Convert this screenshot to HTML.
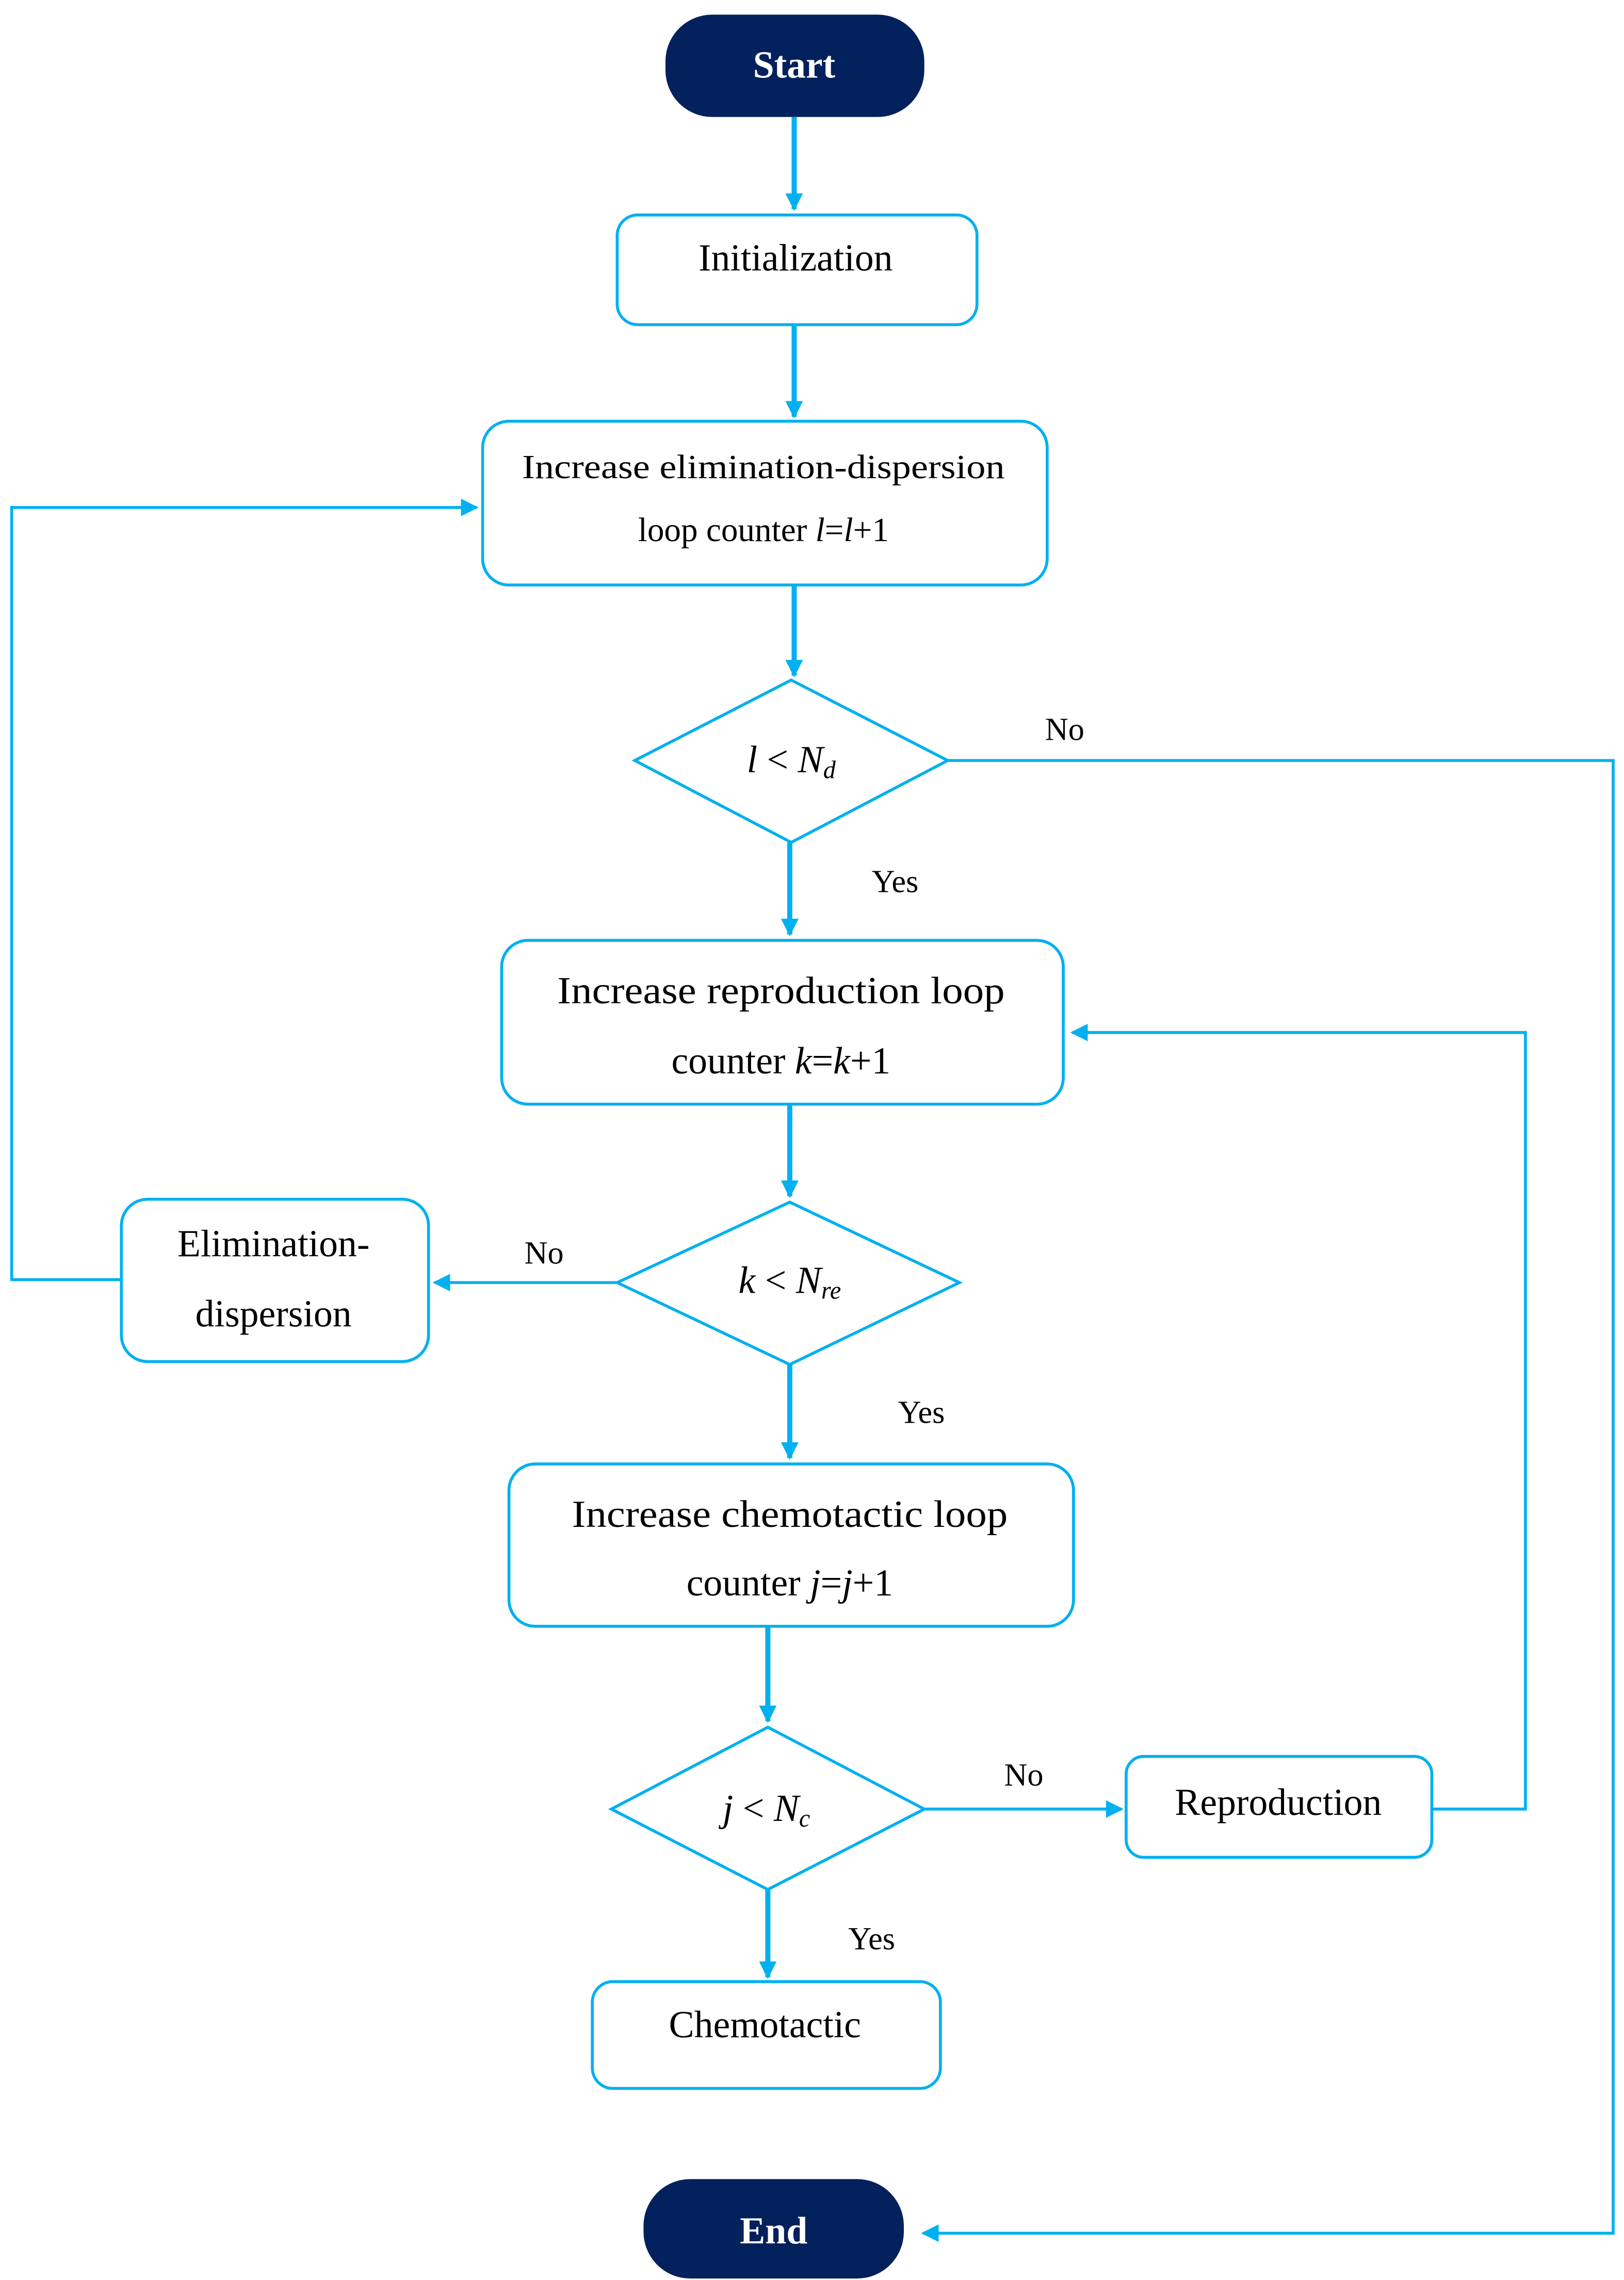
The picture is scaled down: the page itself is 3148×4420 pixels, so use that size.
<!DOCTYPE html>
<html><head><meta charset="utf-8"><style>
html,body{margin:0;padding:0;background:#fff;}
svg{display:block;}
svg text{font-family:"Liberation Serif","DejaVu Serif",serif !important;fill:#000;}
</style></head><body>
<svg width="3148" height="4420" viewBox="0 0 1110.4 1559" preserveAspectRatio="none" xmlns="http://www.w3.org/2000/svg" font-family="'Liberation Serif', 'DejaVu Serif', serif">
<defs>
<marker id="b" viewBox="0 0 10 10" refX="9" refY="5" markerWidth="12" markerHeight="12" orient="auto" markerUnits="userSpaceOnUse"><path d="M0,0 L10,5 L0,10 z" fill="#00B0F0"/></marker>
</defs>
<g stroke="#00B0F0" fill="none">
<rect x="422" y="147" width="246" height="75" rx="14" stroke-width="2"/>
<rect x="330" y="288" width="386" height="112" rx="18" stroke-width="2"/>
<polygon points="541,465 648,520 541,576 434,520" stroke-width="2"/>
<rect x="343" y="643" width="384" height="112" rx="18" stroke-width="2"/>
<polygon points="540,822 656,877 540,933 422,877" stroke-width="2"/>
<rect x="83" y="820" width="210" height="111" rx="18" stroke-width="2"/>
<rect x="348" y="1001" width="386" height="111" rx="18" stroke-width="2"/>
<polygon points="525,1181 632,1237 525,1292 418,1237" stroke-width="2"/>
<rect x="770" y="1201" width="209" height="69" rx="12" stroke-width="2"/>
<rect x="405" y="1355" width="238" height="73" rx="14" stroke-width="2"/>
<g stroke-width="3.5" marker-end="url(#b)">
<line x1="543" y1="80" x2="543" y2="143"/>
<line x1="543" y1="222" x2="543" y2="285"/>
<line x1="543" y1="400" x2="543" y2="462"/>
<line x1="540" y1="576" x2="540" y2="639"/>
<line x1="540" y1="755" x2="540" y2="818"/>
<line x1="540" y1="933" x2="540" y2="997"/>
<line x1="525" y1="1112" x2="525" y2="1177"/>
<line x1="525" y1="1292" x2="525" y2="1352"/>
</g>
<g stroke-width="2" marker-end="url(#b)">
<polyline points="648,520 1103,520 1103,1527 631,1527"/>
<line x1="422" y1="877" x2="297" y2="877"/>
<polyline points="83,875 8,875 8,347 326,347"/>
<line x1="632" y1="1237" x2="767" y2="1237"/>
<polyline points="979,1237 1043,1237 1043,706 733,706"/>
</g>
</g>
<rect x="455" y="10" width="177" height="70" rx="32" fill="#03215C"/>
<rect x="440" y="1490" width="178" height="68" rx="32" fill="#03215C"/>
<text x="543" y="53" font-size="26" font-weight="bold" text-anchor="middle" style="fill:#fff" font-family="'Liberation Serif', serif">Start</text>
<text x="529" y="1534" font-size="26" font-weight="bold" text-anchor="middle" style="fill:#fff" font-family="'Liberation Serif', serif">End</text>
<g font-size="26" text-anchor="middle" font-family="'Liberation Serif', serif">
<text x="544" y="185">Initialization</text>
<text x="522" y="327" font-size="23" textLength="330" lengthAdjust="spacingAndGlyphs">Increase elimination-dispersion</text>
<text x="522" y="370" font-size="23">loop counter <tspan font-style="italic">l</tspan>=<tspan font-style="italic">l</tspan>+1</text>
<text x="541" y="528"><tspan font-style="italic">l</tspan> &lt; <tspan font-style="italic">N</tspan><tspan font-style="italic" font-size="17" dy="4">d</tspan></text>
<text x="534" y="686" textLength="306" lengthAdjust="spacingAndGlyphs">Increase reproduction loop</text>
<text x="534" y="734">counter <tspan font-style="italic">k</tspan>=<tspan font-style="italic">k</tspan>+1</text>
<text x="540" y="884"><tspan font-style="italic">k</tspan> &lt; <tspan font-style="italic">N</tspan><tspan font-style="italic" font-size="17" dy="4">re</tspan></text>
<text x="187" y="859">Elimination-</text>
<text x="187" y="907">dispersion</text>
<text x="540" y="1044" textLength="298" lengthAdjust="spacingAndGlyphs">Increase chemotactic loop</text>
<text x="540" y="1091">counter <tspan font-style="italic">j</tspan>=<tspan font-style="italic">j</tspan>+1</text>
<text x="524" y="1245"><tspan font-style="italic">j</tspan> &lt; <tspan font-style="italic">N</tspan><tspan font-style="italic" font-size="17" dy="4">c</tspan></text>
<text x="874" y="1241">Reproduction</text>
<text x="523" y="1393">Chemotactic</text>
</g>
<g font-size="22" text-anchor="middle" font-family="'Liberation Serif', serif">
<text x="728" y="506">No</text>
<text x="612" y="610">Yes</text>
<text x="372" y="864">No</text>
<text x="630" y="973">Yes</text>
<text x="700" y="1221">No</text>
<text x="596" y="1333">Yes</text>
</g>
</svg>
</body></html>
